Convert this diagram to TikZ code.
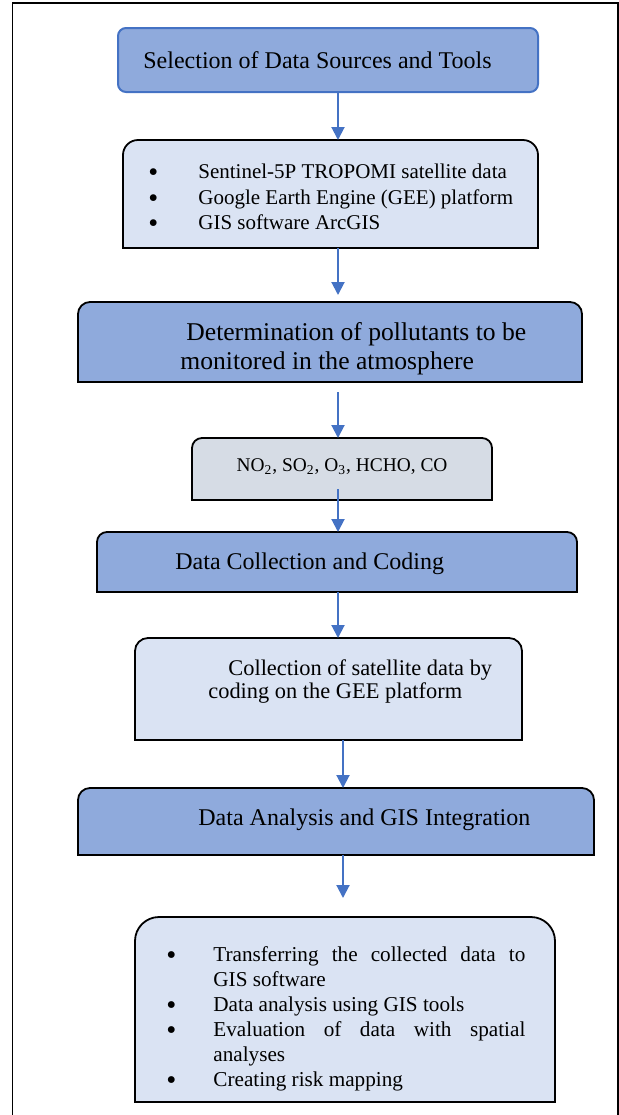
\documentclass[tikz,border=0pt]{standalone}
\usepackage{fontspec}
\setmainfont{Liberation Serif}
\usetikzlibrary{arrows.meta,positioning}
\definecolor{bleu}{RGB}{68,114,196}
\definecolor{bleufonce}{RGB}{143,170,220}
\definecolor{bleuclair}{RGB}{218,227,243}
\definecolor{grisbleu}{RGB}{214,220,229}
%% boite a coins hauts arrondis : noeud, fond, rayon
\newcommand{\onglet}[3]{\filldraw[fill=#2,draw=black,line width=0.9pt] (#1.south west) -- ([yshift=-#3]#1.north west) arc[start angle=180,end angle=90,radius=#3] -- ([xshift=-#3]#1.north east) arc[start angle=90,end angle=0,radius=#3] -- (#1.south east) -- cycle;}
\newcommand{\gpuce}{\smash{\raisebox{-0.32ex}{\scalebox{1.35}{\textbullet}}}}
\newcommand{\puce}[1]{\makebox[25pt][l]{\gpuce}#1}
\newcommand{\pucepar}[1]{\par\hangindent=23.5pt\hangafter=1\noindent\makebox[23.5pt][l]{\gpuce}#1\par}

\begin{document}
\begin{tikzpicture}[x=0.5pt,y=-0.5pt,
  zone/.style={inner sep=0pt,outer sep=0pt},
  txt/.style={inner sep=0pt,align=left,anchor=west},
  fleche/.style={-{Triangle[width=6.5pt,length=6.5pt]},draw=bleu,line width=1pt}]%
\useasboundingbox (0,0) rectangle (619,1115);
%%CADRE
\draw[line width=0.7pt] (12.5,1115) -- (12.5,3) -- (618,3) -- (618,1115);%%
%%BOITES
\node[zone,draw=bleu,fill=bleufonce,line width=1pt,rounded corners=4pt,minimum width=210pt,minimum height=32pt] (sel) at (328,60) {};%%
\node[zone,minimum width=207.5pt,minimum height=54pt] (src) at (330.5,194) {};%%
\node[zone,minimum width=252pt,minimum height=40pt] (pol) at (330,342) {};%%
\node[zone,minimum width=150pt,minimum height=31pt] (gas) at (342,469) {};%%
\node[zone,minimum width=240pt,minimum height=30pt] (col) at (337,562) {};%%
\node[zone,minimum width=193.5pt,minimum height=51pt] (sat) at (328.5,689) {};%%
\node[zone,minimum width=258pt,minimum height=33.5pt] (gis) at (336,821.5) {};%%
\node[zone,minimum width=210pt,minimum height=92.5pt] (lst) at (345,1009.5) {};%%
\onglet{src}{bleuclair}{7.5pt}
\onglet{pol}{bleufonce}{6pt}
\onglet{gas}{grisbleu}{5pt}
\onglet{col}{bleufonce}{5pt}
\onglet{sat}{bleuclair}{6.5pt}
\onglet{gis}{bleufonce}{6pt}
\onglet{lst}{bleuclair}{12pt}
%%TEXTE BOITES
\node[txt,font=\fontsize{12}{14}\selectfont] (seltxt) at (143,60) {Selection of Data Sources and Tools};%%
\node[txt,font=\fontsize{10.5}{12.75}\selectfont] (srctxt) at (148,197) {\puce{Sentinel-5P TROPOMI satellite data}\\\puce{Google Earth Engine (GEE) platform}\\\puce{GIS software ArcGIS}};%%
\node[txt,font=\fontsize{12.8}{14.5}\selectfont] (poltxt) at (180,348.5) {\hspace*{3pt}Determination of pollutants to be\\monitored in the atmosphere};%%
\node[inner sep=0pt,font=\fontsize{9.7}{12}\selectfont] (gastxt) at (342,467) {NO\textsubscript{2}, SO\textsubscript{2}, O\textsubscript{3}, HCHO, CO};%%
\node[txt,font=\fontsize{12}{14}\selectfont] (coltxt) at (175,564) {Data Collection and Coding};%%
\node[txt,font=\fontsize{11.2}{11.5}\selectfont] (sattxt) at (208,682) {\hspace*{10pt}Collection of satellite data by\\coding on the GEE platform};%%
\node[txt,font=\fontsize{12}{14}\selectfont] (gistxt) at (198,820) {Data Analysis and GIS Integration};%%
\node[txt,text width=179.5pt,align=justify,font=\fontsize{10.6}{12.5}\selectfont] (lsttxt) at (166,1014) {\hyphenpenalty=10000\tolerance=10000\spaceskip=1\fontdimen2\font plus 1\fontdimen3\font
  \pucepar{Transferring the collected data to GIS software}\pucepar{Data analysis using GIS tools}\pucepar{Evaluation of data with spatial analyses}\pucepar{Creating risk mapping}};%%
%%FLECHES
\coordinate (axe) at (338,0);
\coordinate (axeb) at (343,0);
\draw[fleche] (sel.south -| axe) -- (src.north -| axe);%%
\draw[fleche,shorten >=3.5pt] (src.south -| axe) -- (pol.north -| axe);%%
\draw[fleche,shorten <=5pt] (pol.south -| axe) -- (gas.north -| axe);%%
\draw[fleche,shorten <=-5.5pt] (gas.south -| axe) -- (col.north -| axe);%%
\draw[fleche] (col.south -| axe) -- (sat.north -| axe);%%
\draw[fleche] (sat.south -| axeb) -- (gis.north -| axeb);%%
\draw[fleche,shorten >=9.5pt] (gis.south -| axeb) -- (lst.north -| axeb);%%
\end{tikzpicture}
\end{document}
